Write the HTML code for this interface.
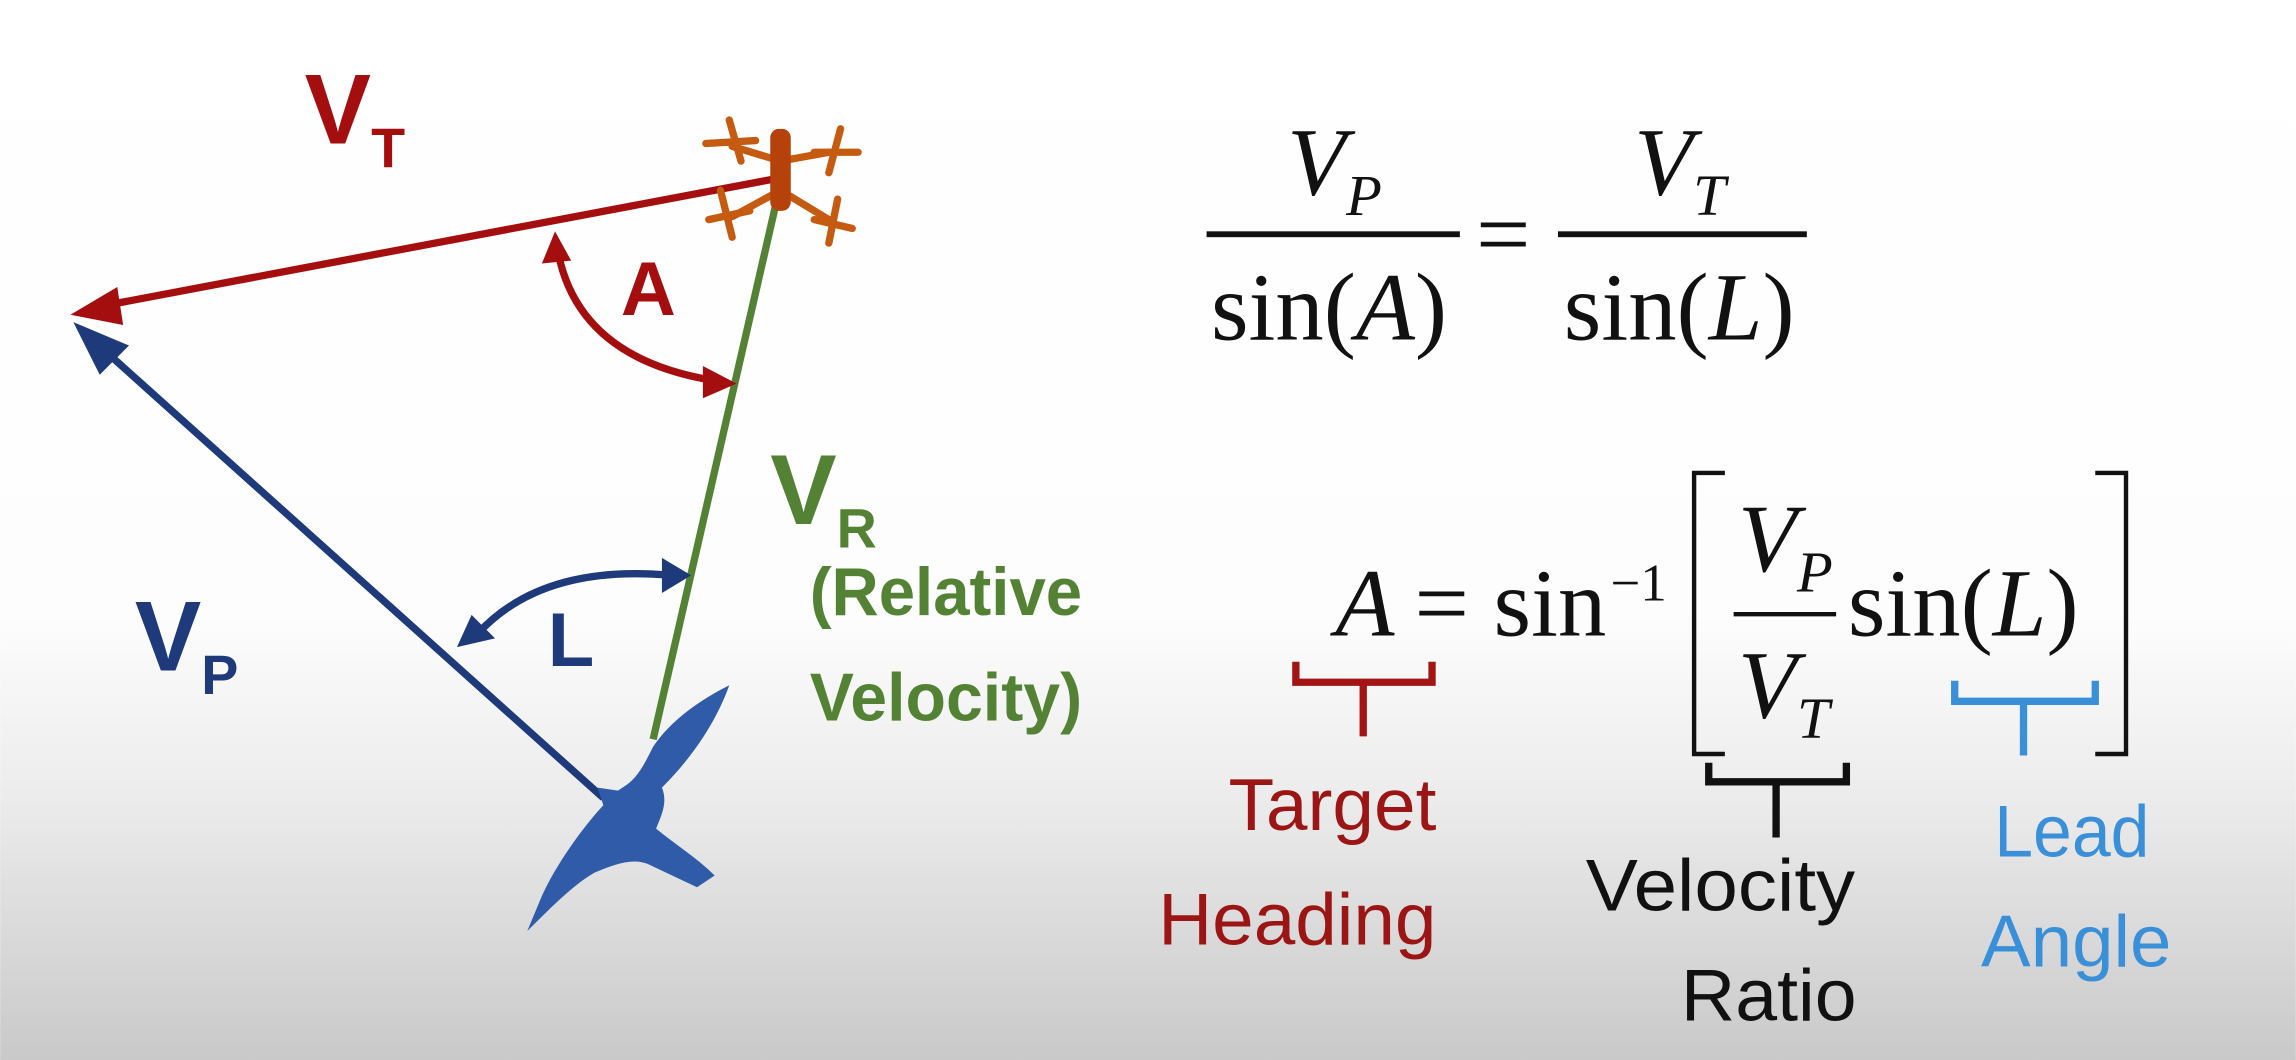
<!DOCTYPE html>
<html><head><meta charset="utf-8"><style>
html,body{margin:0;padding:0;width:2296px;height:1060px;overflow:hidden}
svg{display:block}
.s{font-family:"Liberation Sans",sans-serif;font-weight:bold}
.m{font-family:"Liberation Serif",serif}
.c{font-family:"Liberation Sans",sans-serif}
</style></head><body>
<svg width="2296" height="1060" viewBox="0 0 1568 724" xmlns="http://www.w3.org/2000/svg">
<defs>
<linearGradient id="bg" x1="0" y1="0" x2="0" y2="1">
<stop offset="0" stop-color="#fff"/><stop offset="0.58" stop-color="#fdfdfd"/><stop offset="0.75" stop-color="#ececec"/><stop offset="1" stop-color="#c9c9c9"/>
</linearGradient>
</defs>
<rect width="1568" height="724" fill="url(#bg)"/>

<line x1="532" y1="130" x2="446" y2="505" stroke="#548235" stroke-width="5"/>
<line x1="530" y1="122" x2="75" y2="208" stroke="#a50e0e" stroke-width="5"/>
<polygon points="48,215 80,196 84,222" fill="#a50e0e"/>
<line x1="412" y1="545" x2="72" y2="240" stroke="#1f3a7a" stroke-width="5"/>
<polygon points="50,220 88,236 68,256" fill="#1f3a7a"/>

<path d="M381,172 Q395,245 488,260" fill="none" stroke="#a50e0e" stroke-width="5"/>
<polygon points="379,158 370,180 390,178" fill="#a50e0e"/>
<polygon points="503,262 480,250 480,272" fill="#a50e0e"/>
<text class="s" x="424" y="215" font-size="52" fill="#a50e0e">A</text>

<path d="M458,393 Q370,385 326,433" fill="none" stroke="#1f3a7a" stroke-width="5"/>
<polygon points="472,393 452,381 452,405" fill="#1f3a7a"/>
<polygon points="312,442 322,420 338,436" fill="#1f3a7a"/>
<text class="s" x="374" y="455" font-size="52" fill="#1f3a7a">L</text>

<text class="s" x="208" y="98" font-size="68" fill="#a50e0e">V<tspan font-size="38" dy="16">T</tspan></text>
<text class="s" x="92" y="458" font-size="68" fill="#1f3a7a">V<tspan font-size="38" dy="16">P</tspan></text>
<text class="s" x="526" y="358" font-size="68" fill="#548235">V<tspan font-size="38" dy="16">R</tspan></text>
<text class="s" x="553" y="420" font-size="46" fill="#548235" textLength="186" lengthAdjust="spacingAndGlyphs">(Relative</text>
<text class="s" x="553" y="492" font-size="46" fill="#548235" textLength="186" lengthAdjust="spacingAndGlyphs">Velocity)</text>

<g stroke="#c55a11" stroke-width="5" stroke-linecap="round" fill="none">
<line x1="533" y1="110" x2="500" y2="100"/><line x1="533" y1="110" x2="566" y2="104"/>
<line x1="533" y1="130" x2="500" y2="148"/><line x1="533" y1="130" x2="566" y2="150"/>
<path d="M482,98 L516,96 M498,82 L506,110"/><path d="M556,104 L586,104 M574,88 L566,118"/>
<path d="M484,150 L512,144 M492,130 L500,162"/><path d="M556,150 L582,156 M572,136 L566,166"/>
<rect x="526" y="88" width="14" height="56" rx="6" fill="#b5420a" stroke="none"/>
</g>

<path fill="#2f5ba8" d="M498,468 C478,478 458,492 446,510 C440,522 436,530 428,536 L422,540 L408,538 L412,550 C398,565 380,590 370,612 L360,636 C378,618 392,604 406,596 C420,590 432,586 442,590 L476,606 L488,598 C476,586 460,576 448,566 C452,556 456,548 452,538 C470,520 488,496 498,468Z"/>

<g class="m" fill="#111">
<text x="879" y="133" font-size="66" font-style="italic">V<tspan font-size="40" dy="14">P</tspan></text>
<rect x="824" y="158" width="173" height="4"/>
<text x="827" y="232" font-size="66">sin(<tspan font-style="italic">A</tspan>)</text>
<text x="1008" y="182" font-size="66">=</text>
<text x="1116" y="133" font-size="66" font-style="italic">V<tspan font-size="40" dy="14">T</tspan></text>
<rect x="1064" y="158" width="170" height="4"/>
<text x="1068" y="232" font-size="66">sin(<tspan font-style="italic">L</tspan>)</text>
</g>

<g class="m" fill="#111">
<text x="912" y="434" font-size="66" font-style="italic">A</text>
<text x="966" y="434" font-size="66">=</text>
<text x="1020" y="434" font-size="66">sin</text>
<text x="1100" y="410" font-size="36">−1</text>
<path d="M1178,323 L1157,323 L1157,515 L1178,515" fill="none" stroke="#111" stroke-width="3"/>
<text x="1187" y="390" font-size="66" font-style="italic">V<tspan font-size="40" dy="14">P</tspan></text>
<rect x="1184" y="418" width="70" height="3"/>
<text x="1187" y="490" font-size="66" font-style="italic">V<tspan font-size="40" dy="14">T</tspan></text>
<text x="1262" y="434" font-size="66">sin(<tspan font-style="italic">L</tspan>)</text>
<path d="M1431,323 L1452,323 L1452,515 L1431,515" fill="none" stroke="#111" stroke-width="3"/>
</g>

<path d="M885,452 L885,466 L978,466 L978,452 M931,466 L931,503" fill="none" stroke="#a31515" stroke-width="5"/>
<path d="M1167,521 L1167,534 L1261,534 L1261,521 M1213,534 L1213,572" fill="none" stroke="#111" stroke-width="5"/>
<path d="M1335,465 L1335,479 L1431,479 L1431,465 M1382,479 L1382,516" fill="none" stroke="#3a8fd9" stroke-width="5"/>

<text class="c" x="839" y="567" font-size="50" fill="#9c1515" textLength="142" lengthAdjust="spacingAndGlyphs">Target</text>
<text class="c" x="791" y="645" font-size="50" fill="#9c1515" textLength="190" lengthAdjust="spacingAndGlyphs">Heading</text>
<text class="c" x="1083" y="622" font-size="50" fill="#111" textLength="184" lengthAdjust="spacingAndGlyphs">Velocity</text>
<text class="c" x="1148" y="697" font-size="50" fill="#111" textLength="120" lengthAdjust="spacingAndGlyphs">Ratio</text>
<text class="c" x="1362" y="585" font-size="50" fill="#3a8fd9" textLength="106" lengthAdjust="spacingAndGlyphs">Lead</text>
<text class="c" x="1353" y="660" font-size="50" fill="#3a8fd9" textLength="130" lengthAdjust="spacingAndGlyphs">Angle</text>
</svg>
</body></html>
